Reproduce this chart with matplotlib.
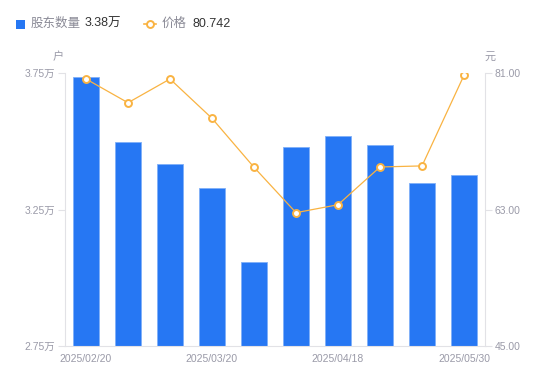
import matplotlib
matplotlib.use("Agg")
import matplotlib.pyplot as plt
from matplotlib.lines import Line2D
from matplotlib.patches import Rectangle

plt.rcParams['font.family'] = ['Liberation Sans', 'Noto Sans CJK SC', 'DejaVu Sans']

dates = ["2025/02/20", "2025/02/28", "2025/03/10", "2025/03/20", "2025/03/31",
         "2025/04/10", "2025/04/18", "2025/04/30", "2025/05/20", "2025/05/30"]
holders = [3.7375, 3.498, 3.418, 3.328, 3.056, 3.478, 3.519, 3.487, 3.348, 3.378]
price = [80.25, 77.11, 80.25, 75.05, 68.58, 62.58, 63.63, 68.62, 68.76, 80.742]
shown_ticks = [0, 3, 6, 9]
left_ticks = [2.75, 3.25, 3.75]
right_ticks = [45.0, 63.0, 81.0]

BAR = '#2677F3'
LINE = '#F9B342'
GRAY = '#9A9AA8'
AXC = '#E2E2E6'

fig = plt.figure(figsize=(5.5, 3.81), dpi=100)
ax = fig.add_axes([65/550, 1-345.7/381, 420/550, 272.4/381])
x = list(range(len(dates)))
ax.bar(x, holders, width=0.6, color=BAR, edgecolor='#7FB0F8', linewidth=0.6, bottom=0, zorder=2)
ax.set_xlim(-0.5, len(dates)-0.5)
ax.set_ylim(2.75, 3.75)
ax.set_yticks(left_ticks)
ax.set_yticklabels([f"{v:.2f}万" for v in left_ticks])
ax.set_xticks([x[i] for i in shown_ticks])
ax.set_xticklabels([dates[i] for i in shown_ticks])
ax.tick_params(axis='x', length=0, pad=6, labelsize=7.5, colors=GRAY)
ax.tick_params(axis='y', length=5, width=0.8, color=AXC, pad=2, labelsize=7.5, labelcolor=GRAY)
for s in ['top', 'right']:
    ax.spines[s].set_visible(False)
for s in ['left', 'bottom']:
    ax.spines[s].set_color(AXC)
    ax.spines[s].set_linewidth(0.8)

ax2 = ax.twinx()
ax2.plot(x, price, color=LINE, linewidth=0.9, marker='o', markersize=5,
         markerfacecolor='white', markeredgecolor=LINE, markeredgewidth=1.4, zorder=3)
ax2.set_ylim(45, 81)
ax2.set_yticks(right_ticks)
ax2.set_yticklabels([f"{v:.2f}" for v in right_ticks])
ax2.tick_params(axis='y', length=5, width=0.8, color=AXC, pad=2, labelsize=7.5, labelcolor=GRAY)
for s in ['top', 'left', 'bottom']:
    ax2.spines[s].set_visible(False)
ax2.spines['right'].set_color(AXC)
ax2.spines['right'].set_linewidth(0.8)

fig.text(58/550, 1-57/381, "户", fontsize=8, color=GRAY, ha='center', va='center')
fig.text(490/550, 1-57/381, "元", fontsize=8, color=GRAY, ha='center', va='center')

# legend
fig.patches.append(Rectangle((16/550, 1-29/381), 9/550, 9/381, transform=fig.transFigure,
                             facecolor=BAR, edgecolor='none'))
fig.text(31/550, 1-24/381, "股东数量", fontsize=9, color='#8A8A96', ha='left', va='center')
fig.text(85/550, 1-24/381, f"{holders[-1]:.2f}万", fontsize=9, color='#333333', ha='left', va='center')
fig.lines.append(Line2D([144/550, 156/550], [1-24/381, 1-24/381], transform=fig.transFigure,
                        color=LINE, linewidth=1.2, marker='o', markevery=[0], markersize=0))
fig.lines.append(Line2D([150/550], [1-24/381], transform=fig.transFigure, color=LINE,
                        marker='o', markersize=5, markerfacecolor='white', markeredgewidth=1.4))
fig.text(162/550, 1-24/381, "价格", fontsize=9, color='#8A8A96', ha='left', va='center')
fig.text(192/550, 1-24/381, f"{price[-1]:.3f}", fontsize=9, color='#333333', ha='left', va='center')

fig.savefig("out.png", dpi=100)
